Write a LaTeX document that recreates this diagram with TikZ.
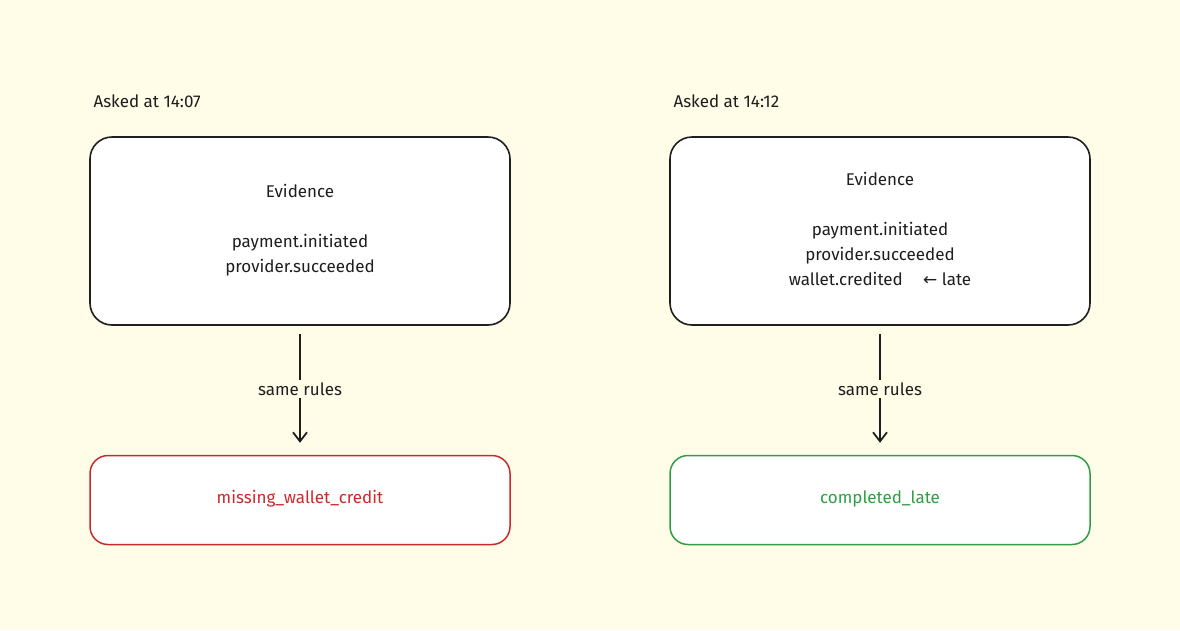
\documentclass[tikz,border=0pt]{standalone}
\usepackage{fontspec}
\setmainfont{Fira Sans}
\newfontfamily\symf{DejaVu Sans}
\usetikzlibrary{arrows.meta}
\definecolor{bg}{HTML}{FFFCE8}
\definecolor{ink}{HTML}{1E1E1E}
\definecolor{red}{HTML}{C92A2A}
\definecolor{grn}{HTML}{2F9E44}
\begin{document}
\begin{tikzpicture}[x=1pt,y=-1pt,
  box/.style={draw=ink,line width=1.6pt,fill=white,rounded corners=22pt,inner sep=0pt},
  res/.style={line width=1.5pt,fill=white,rounded corners=18pt,inner sep=0pt},
  txt/.style={font=\fontsize{17}{25}\selectfont,text=ink,align=center},
  arr/.style={draw=ink,line width=1.8pt,-{Straight Barb[length=9pt,width=14pt]}},
  lab/.style={txt,fill=bg,inner sep=3pt}]
\fill[bg] (0,0) rectangle (1180,630);
\useasboundingbox (0,0) rectangle (1180,630);
\node[txt,anchor=west] (t1) at (90,101) {Asked at 14:07};
\node[txt,anchor=west] (t2) at (670,101) {Asked at 14:12};
\node[box,minimum width=420pt,minimum height=188pt] (e1) at (300,231) {};
\node[box,minimum width=420pt,minimum height=188pt] (e2) at (880,231) {};
\node[txt] (h1) at (300,191) {Evidence};
\node[txt] (b1) at (300,255) {payment.initiated\\provider.succeeded};
\node[txt] (h2) at (880,179) {Evidence};
\node[txt] (b2) at (880,254) {payment.initiated\\provider.succeeded\\wallet.credited\hspace{1.2em}{\symf ←} late};
\node[res,draw=red,minimum width=420pt,minimum height=89pt] (r1) at (300,500) {};
\node[res,draw=grn,minimum width=420pt,minimum height=89pt] (r2) at (880,500) {};
\node[txt,text=red] (rt1) at (300,499) {missing\_wallet\_credit};
\node[txt,text=grn] (rt2) at (880,499) {completed\_late};
\draw[arr] ([yshift=-8pt]e1.south) -- ([yshift=12pt]r1.north);
\draw[arr] ([yshift=-8pt]e2.south) -- ([yshift=12pt]r2.north);
\node[lab] (l1) at (300,389) {same rules};
\node[lab] (l2) at (880,389) {same rules};
\end{tikzpicture}
\end{document}
